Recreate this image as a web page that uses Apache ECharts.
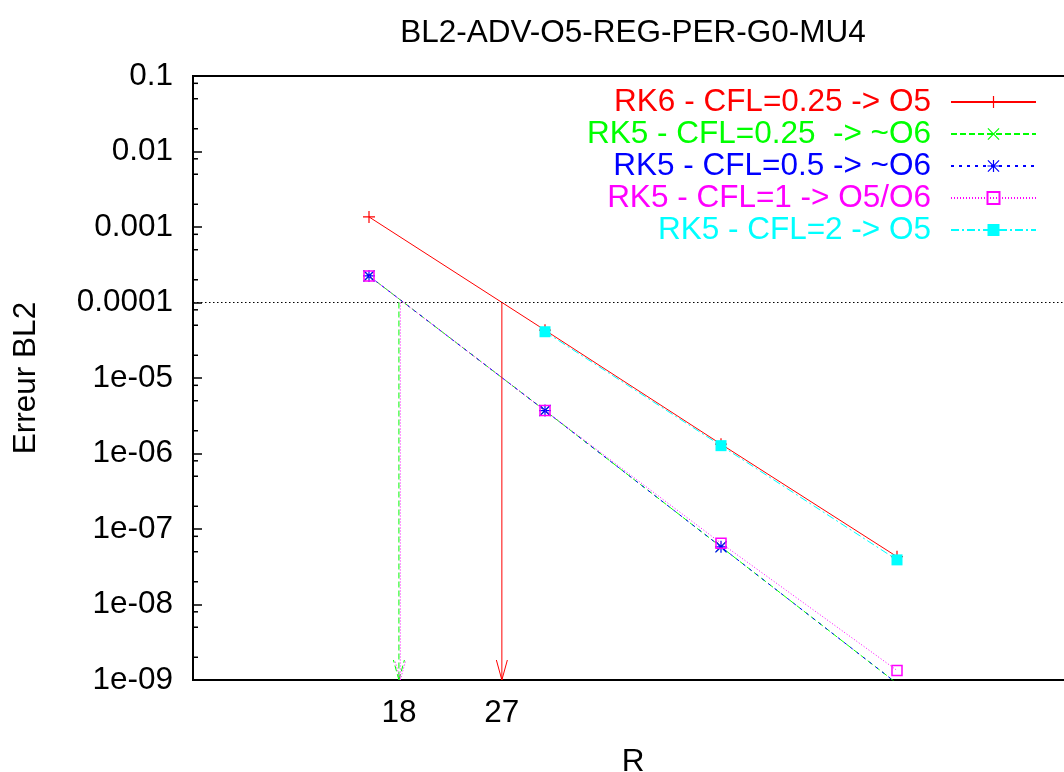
<!DOCTYPE html>
<html>
<head>
<meta charset="utf-8">
<script src="https://cdn.jsdelivr.net/npm/echarts@6/dist/echarts.min.js"></script>
<style>
html,body{margin:0;padding:0;background:#ffffff;}
#chart{width:1064px;height:772px;}
</style>
</head>
<body>
<div id="chart"></div>
<script>
// ---------------- data ----------------
const chartTitle = 'BL2-ADV-O5-REG-PER-G0-MU4';
const xAxisLabel = 'R';
const yAxisLabel = 'Erreur BL2';

const resolutions = [16, 32, 64, 128];
const seriesNames = [
  'RK6 - CFL=0.25 -> O5',
  'RK5 - CFL=0.25  -> ~O6',
  'RK5 - CFL=0.5 -> ~O6',
  'RK5 - CFL=1 -> O5/O6',
  'RK5 - CFL=2 -> O5'
];
const errRK6cfl025 = [1.36e-3, 4.3e-5, 1.33e-6, 4.3e-8];
const errRK5cfl025 = [2.25e-4, 3.7e-6, 5.8e-8, 9.0e-10];
const errRK5cfl05  = [2.25e-4, 3.7e-6, 5.8e-8, 9.0e-10];
const errRK5cfl1   = [2.25e-4, 3.7e-6, 6.5e-8, 1.34e-9];
const errRK5cfl2   = [null, 4.1e-5, 1.27e-6, 3.9e-8];

const thresholdError = 1e-4;
const crossingR = [27, 18, 18.1];        // arrows: RK6, RK5 CFL=0.25, RK5 CFL=1
const xTickValues = [18, 27];
const xMin = 8, xMax = 256;
const yMin = 1e-9, yMax = 0.1;
const yMinorMultipliers = [2, 5, 8];

// ---------------- styles ----------------
const FONT = '"Liberation Sans", Arial, Helvetica, sans-serif';
const FS = 31.5;
const colors = ['#ff0000', '#00ff00', '#0000ff', '#ff00ff', '#00ffff'];
const dashes = ['solid', [6, 3], [3, 5], [1, 2], [8, 3, 2, 3]];
const PLUS = 'path://M4.5,0H5.5V4.5H10V5.5H5.5V10H4.5V5.5H0V4.5H4.5Z';
const CROSS = 'path://M0,0.7L0.7,0L5,4.3L9.3,0L10,0.7L5.7,5L10,9.3L9.3,10L5,5.7L0.7,10L0,9.3L4.3,5Z';
const STAR = 'path://M4.5,0H5.5V4.5H10V5.5H5.5V10H4.5V5.5H0V4.5H4.5Z' +
             'M0,0.7L0.7,0L5,4.3L9.3,0L10,0.7L5.7,5L10,9.3L9.3,10L5,5.7L0.7,10L0,9.3L4.3,5Z';
const symbols = [PLUS, CROSS, STAR, 'rect', 'rect'];
const symbolSizes = [12, 11, 12, 10, 11];
const arrowStyles = [
  {stroke: '#ff0000', lineDash: null},
  {stroke: '#00ff00', lineDash: [6, 3]},
  {stroke: '#ff00ff', lineDash: [1, 2]}
];

const allErrors = [errRK6cfl025, errRK5cfl025, errRK5cfl05, errRK5cfl1, errRK5cfl2];

const yMinorTicks = [];
for (let e = Math.round(Math.log10(yMin)); e < Math.round(Math.log10(yMax)); e++) {
  yMinorMultipliers.forEach(m => yMinorTicks.push(m * Math.pow(10, e)));
}

function toPairs(vals) {
  const out = [];
  vals.forEach((v, i) => { if (v !== null) out.push([resolutions[i], v]); });
  return out;
}

const dataSeries = allErrors.map((vals, i) => ({
  type: 'line',
  name: seriesNames[i],
  data: toPairs(vals),
  symbol: symbols[i],
  symbolSize: symbolSizes[i],
  showSymbol: true,
  clip: true,
  lineStyle: {color: colors[i], width: 1, type: dashes[i]},
  itemStyle: i === 3
    ? {color: 'rgba(255,255,255,0)', borderColor: colors[i], borderWidth: 1.5}
    : {color: colors[i], borderWidth: 0},
  emphasis: {disabled: true},
  z: 2 + i * 0.01
}));

const guideSeries = [
  { // y minor ticks
    type: 'custom', name: 'yMinor', silent: true, z: 6,
    data: yMinorTicks.map(v => [xMin, v]),
    renderItem: (p, api) => {
      const pt = api.coord([api.value(0), api.value(1)]);
      return {type: 'line', shape: {x1: pt[0], y1: pt[1], x2: pt[0] + 5, y2: pt[1]},
              style: {stroke: '#000', lineWidth: 1.5}};
    }
  },
  { // threshold dotted line
    type: 'custom', name: 'threshold', silent: true, z: 3,
    data: [[xMin, thresholdError], [xMax, thresholdError]],
    renderItem: (p, api) => {
      if (p.dataIndex !== 0) return null;
      const a = api.coord([xMin, thresholdError]);
      const b = api.coord([xMax, thresholdError]);
      return {type: 'line', shape: {x1: a[0], y1: a[1], x2: b[0], y2: b[1]},
              style: {stroke: '#000', lineWidth: 1, lineDash: [1.5, 2.5]}};
    }
  },
  { // arrows
    type: 'custom', name: 'arrows', silent: true, z: 4,
    data: crossingR.map((r, i) => [r, thresholdError, i]),
    renderItem: (p, api) => {
      const r = api.value(0);
      const top = api.coord([r, api.value(1)]);
      const bot = api.coord([r, yMin]);
      const st = arrowStyles[p.dataIndex];
      const style = {stroke: st.stroke, lineWidth: 1, lineDash: st.lineDash};
      return {type: 'group', children: [
        {type: 'line', shape: {x1: top[0], y1: top[1], x2: bot[0], y2: bot[1]}, style: style},
        {type: 'line', shape: {x1: bot[0], y1: bot[1], x2: bot[0] - 5.5, y2: bot[1] - 20}, style: style},
        {type: 'line', shape: {x1: bot[0], y1: bot[1], x2: bot[0] + 5.5, y2: bot[1] - 20}, style: style}
      ]};
    }
  },
  { // x tick labels
    type: 'custom', name: 'xTicks', silent: true, z: 6, clip: false,
    data: xTickValues.map(v => [v, yMin]),
    renderItem: (p, api) => {
      const pt = api.coord([api.value(0), api.value(1)]);
      return {type: 'text', x: pt[0], y: pt[1] + 33,
              style: {text: String(api.value(0)), fill: '#000', font: FS + 'px ' + FONT,
                      align: 'center', verticalAlign: 'middle'}};
    }
  }
];

const chart = echarts.init(document.getElementById('chart'), null, {renderer: 'canvas'});
chart.setOption({
  animation: false,
  backgroundColor: '#ffffff',
  title: {
    text: chartTitle, left: 633, top: 17, textAlign: 'center', padding: 0,
    textStyle: {fontFamily: FONT, fontSize: FS, fontWeight: 'normal', color: '#000'}
  },
  legend: {
    orient: 'vertical', right: 27, top: 86, padding: 0, align: 'right',
    itemWidth: 85, itemHeight: 15, itemGap: 0, selectedMode: false,
    textStyle: {fontFamily: FONT, fontSize: FS, lineHeight: 30, padding: [0, 15, 0, 0]},
    data: seriesNames.map((n, i) => ({name: n, textStyle: {color: colors[i]}}))
  },
  grid: {left: 193, top: 76, right: -9, bottom: 92, show: true,
         borderColor: '#000', borderWidth: 2, backgroundColor: 'transparent',
         containLabel: false, outerBoundsMode: 'none'},
  xAxis: {
    type: 'log', logBase: 2, min: xMin, max: xMax,
    name: xAxisLabel, nameLocation: 'middle', nameGap: 66,
    nameTextStyle: {fontFamily: FONT, fontSize: FS, color: '#000'},
    axisLine: {show: true, lineStyle: {color: '#000', width: 2}},
    axisTick: {show: false}, axisLabel: {show: false}, splitLine: {show: false}, minorTick: {show: false}
  },
  yAxis: {
    type: 'log', logBase: 10, min: yMin, max: yMax, splitNumber: 8,
    name: yAxisLabel, nameLocation: 'middle', nameGap: 151, nameRotate: 90,
    nameTextStyle: {fontFamily: FONT, fontSize: FS, color: '#000'},
    axisLine: {show: true, lineStyle: {color: '#000', width: 2}},
    axisTick: {show: true, inside: true, length: 9, lineStyle: {color: '#000', width: 1.5}},
    splitLine: {show: false},
    axisLabel: {
      show: true, margin: 20, fontFamily: FONT, fontSize: FS, color: '#000',
      showMinLabel: true, showMaxLabel: true,
      formatter: v => {
        const e = Math.round(Math.log10(v));
        return e >= -4 ? Math.pow(10, e).toFixed(-e) : '1e-' + String(-e).padStart(2, '0');
      }
    }
  },
  series: dataSeries.concat(guideSeries)
});
</script>
</body>
</html>
